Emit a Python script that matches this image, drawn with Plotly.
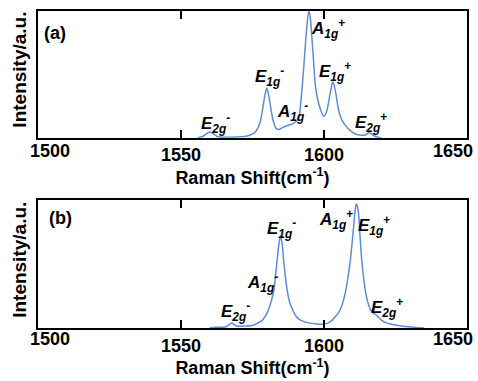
import plotly.graph_objects as go

# ---- data ----
shift_a = [1555.8, 1557.5, 1558.8, 1560.1, 1561.4, 1562.5, 1563.5, 1566, 1569, 1572, 1574, 1576,
           1577.5, 1578.5, 1579.3, 1580.0, 1580.7, 1581.5, 1582.3, 1583.2, 1584.2, 1585.5, 1587,
           1588.9, 1590.3, 1591.2, 1591.8, 1592.4, 1593.0, 1593.5, 1594.1, 1594.7, 1595.2, 1595.6,
           1596.3, 1597.0, 1597.8, 1598.7, 1599.9, 1600.8, 1601.6, 1602.4, 1603.1, 1603.8, 1604.5,
           1605.1, 1605.7, 1606.5, 1607.4, 1609, 1611, 1613, 1614.5, 1615.6, 1616.7, 1618, 1620]
inten_a = [0.0, 0.01, 0.03, 0.046, 0.03, 0.012, 0.006, 0.004, 0.006, 0.01, 0.02, 0.046,
           0.11, 0.22, 0.33, 0.39, 0.33, 0.22, 0.13, 0.075, 0.065, 0.08, 0.095,
           0.11, 0.13, 0.16, 0.26, 0.41, 0.58, 0.74, 0.9, 1.0, 0.95, 0.84,
           0.62, 0.41, 0.3, 0.23, 0.17, 0.2, 0.28, 0.38, 0.44, 0.39, 0.30,
           0.22, 0.17, 0.13, 0.10, 0.06, 0.03, 0.02, 0.022, 0.04, 0.03, 0.01, 0.0]

shift_b = [1560, 1562, 1565.7, 1566.8, 1567.8, 1568.6, 1569.5, 1572, 1574.9, 1577, 1578.4, 1579.7,
           1580.7, 1581.7, 1582.5, 1583.1, 1583.6, 1584.2, 1584.8, 1585.4, 1585.9, 1586.5, 1587.1,
           1588, 1588.9, 1590, 1591.2, 1593, 1594.7, 1597, 1599.9, 1601.5, 1602.8, 1604, 1605.1,
           1606.3, 1607.4, 1608.4, 1609.2, 1609.8, 1610.3, 1610.8, 1611.3, 1611.7, 1612.1, 1612.6,
           1613.2, 1613.8, 1614.4, 1615.2, 1616.1, 1617.2, 1618.4, 1619.3, 1620.2, 1621.8, 1623.6,
           1626, 1629.4, 1635]
inten_b = [0.0, 0.005, 0.01, 0.025, 0.04, 0.025, 0.015, 0.015, 0.02, 0.04, 0.06, 0.1,
           0.15, 0.22, 0.30, 0.42, 0.53, 0.65, 0.72, 0.65, 0.53, 0.40, 0.30,
           0.2, 0.15, 0.1, 0.07, 0.05, 0.04, 0.033, 0.03, 0.04, 0.06, 0.09, 0.12,
           0.18, 0.27, 0.4, 0.53, 0.66, 0.78, 0.9, 0.97, 0.95, 0.89, 0.72,
           0.53, 0.4, 0.30, 0.21, 0.15, 0.115, 0.10, 0.08, 0.06, 0.04, 0.03,
           0.02, 0.01, 0.0]

tick_vals = [1500, 1550, 1600, 1650]
tick_text = ["", "1550", "1600", ""]
edge_labels = ["1500", "1650"]

labels_a = [("E", "2g", "-", 1562.0, 0.11), ("E", "1g", "-", 1580.9, 0.485),
            ("A", "1g", "-", 1588.9, 0.21), ("A", "1g", "+", 1601.3, 0.865),
            ("E", "1g", "+", 1603.7, 0.525), ("E", "2g", "+", 1616.6, 0.118)]
labels_b = [("E", "2g", "-", 1568.9, 0.132), ("A", "1g", "-", 1578.5, 0.36),
            ("E", "1g", "-", 1585.3, 0.78), ("A", "1g", "+", 1604.2, 0.85),
            ("E", "1g", "+", 1617.5, 0.805), ("E", "2g", "+", 1622.2, 0.163)]

LINE = "#5b8cdc"
FONT = "Liberation Sans, Arial, sans-serif"

fig = go.Figure()
fig.add_trace(go.Scatter(x=shift_a, y=inten_a, mode="lines", line=dict(color=LINE, width=1.5, shape="spline"),
                         xaxis="x", yaxis="y", showlegend=False))
fig.add_trace(go.Scatter(x=shift_b, y=inten_b, mode="lines", line=dict(color=LINE, width=1.5, shape="spline"),
                         xaxis="x2", yaxis="y2", showlegend=False))

xcommon = dict(range=[1500, 1650], tickvals=tick_vals, ticktext=tick_text, ticks="inside", ticklen=8,
               tickwidth=2, tickcolor="black", showline=True, linecolor="black", linewidth=2,
               mirror="ticks", showgrid=False, zeroline=False,
               tickfont=dict(family=FONT, size=18, color="black", weight="bold"),
               title=dict(text="<b>Raman Shift(cm<sup>-1</sup>)</b>", font=dict(family=FONT, size=18, color="black"),
                          standoff=4))
ycommon = dict(range=[0, 1.0], showticklabels=False, ticks="", showline=True, linecolor="black",
               linewidth=2, mirror=True, showgrid=False, zeroline=False)

fig.update_layout(
    width=478, height=381, margin=dict(l=38, r=9, t=11, b=45),
    paper_bgcolor="white", plot_bgcolor="white",
    xaxis=dict(domain=[0, 1], anchor="y", **xcommon),
    yaxis=dict(domain=[0.6, 1.0], anchor="x", **ycommon),
    xaxis2=dict(domain=[0, 1], anchor="y2", **xcommon),
    yaxis2=dict(domain=[0.0, 0.403], anchor="x2", **ycommon),
)

ann = []
lab_font = dict(family=FONT, size=17, color="black")
for (lab, xr, yr) in [(labels_a, "x", "y"), (labels_b, "x2", "y2")]:
    for (letter, sub, sup, xv, yv) in lab:
        ann.append(dict(text=f"<b><i>{letter}<sub>{sub}</sub></i><sup>{sup}</sup></b>", x=xv, y=yv,
                        xref=xr, yref=yr, showarrow=False, font=lab_font, xanchor="center", yanchor="middle"))
ann.append(dict(text="<b>(a)</b>", x=1501.5, y=0.83, xref="x", yref="y", showarrow=False,
                font=dict(family=FONT, size=18, color="black"), xanchor="left", yanchor="middle"))
ann.append(dict(text="<b>(b)</b>", x=1503.0, y=0.86, xref="x2", yref="y2", showarrow=False,
                font=dict(family=FONT, size=18, color="black"), xanchor="left", yanchor="middle"))
# edge tick labels (shifted inside the figure as in the reference)
for ypos in [0.557, -0.034]:
    ann.append(dict(text=f"<b>{edge_labels[0]}</b>", x=-0.023, y=ypos, xref="paper", yref="paper",
                    showarrow=False, xanchor="left", yanchor="middle", font=dict(family=FONT, size=18, color="black")))
    ann.append(dict(text=f"<b>{edge_labels[1]}</b>", x=1.0186, y=ypos, xref="paper", yref="paper",
                    showarrow=False, xanchor="right", yanchor="middle", font=dict(family=FONT, size=18, color="black")))
# y titles
for ypos in [0.815, 0.215]:
    ann.append(dict(text="<b>Intensity/a.u.</b>", x=-0.042, y=ypos, xref="paper", yref="paper", textangle=-90,
                    showarrow=False, xanchor="center", yanchor="middle", font=dict(family=FONT, size=19, color="black")))
fig.update_layout(annotations=ann)

fig.write_html("out.html", config={"displayModeBar": False},
               post_script="document.body.style.margin='0px';document.body.style.overflow='hidden';")
